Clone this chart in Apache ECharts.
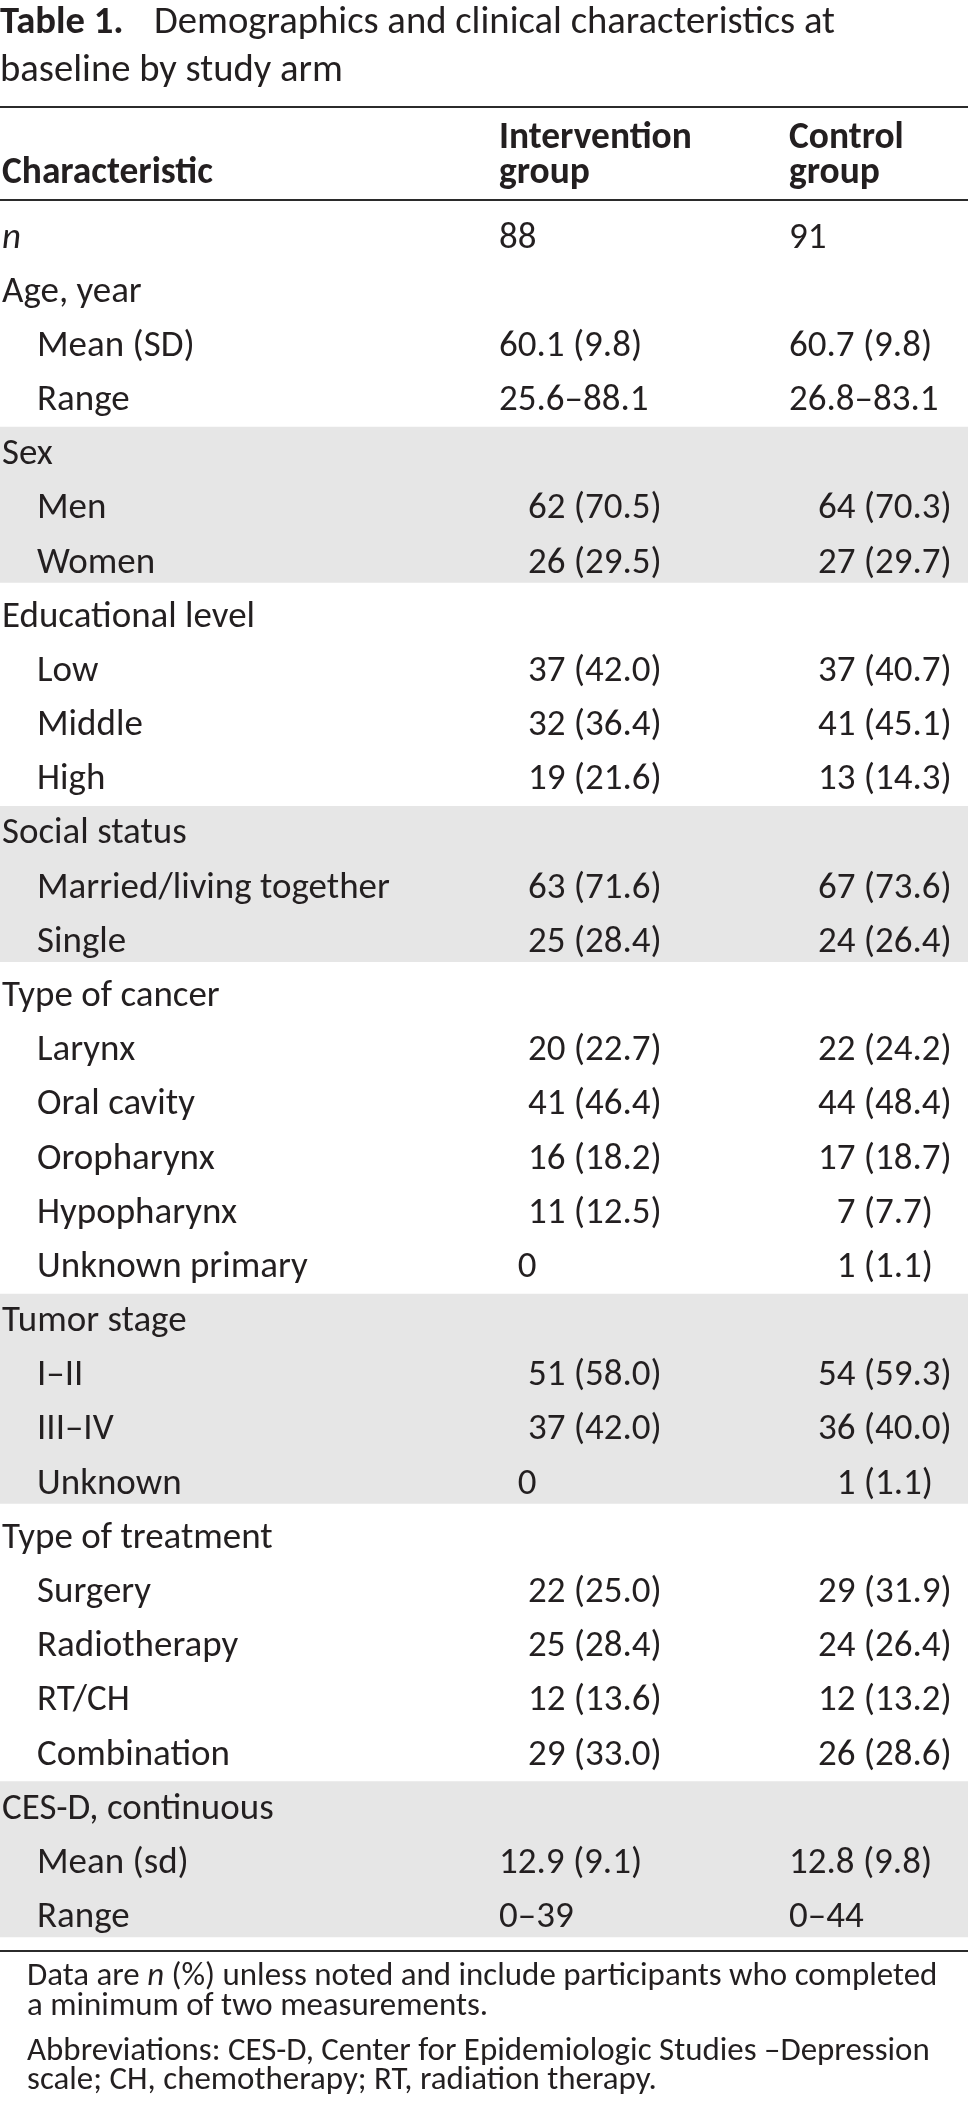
<!DOCTYPE html>
<html>
<head>
<meta charset="utf-8">
<script src="https://cdn.jsdelivr.net/npm/echarts@6/dist/echarts.min.js"></script>
<style>
html,body{margin:0;padding:0;background:#fff;}
#chart{width:968px;height:2104px;}
</style>
</head>
<body>
<div id="chart"></div>
<script>
// ---------------- DATA ----------------
const titleBold = "Table 1.";
const titleLine1 = "Demographics and clinical characteristics at";
const titleLine2 = "baseline by study arm";
const headerCharacteristic = "Characteristic";
const headerIntervention = ["Intervention", "group"];
const headerControl = ["Control", "group"];

const rowLabels = [
  "n", "Age, year", "Mean (SD)", "Range",
  "Sex", "Men", "Women",
  "Educational level", "Low", "Middle", "High",
  "Social status", "Married/living together", "Single",
  "Type of cancer", "Larynx", "Oral cavity", "Oropharynx", "Hypopharynx", "Unknown primary",
  "Tumor stage", "I–II", "III–IV", "Unknown",
  "Type of treatment", "Surgery", "Radiotherapy", "RT/CH", "Combination",
  "CES-D, continuous", "Mean (sd)", "Range"
];
const rowLevel = [
  0, 0, 1, 1,
  0, 1, 1,
  0, 1, 1, 1,
  0, 1, 1,
  0, 1, 1, 1, 1, 1,
  0, 1, 1, 1,
  0, 1, 1, 1, 1,
  0, 1, 1
];
const interventionValues = [
  "88", "", "60.1 (9.8)", "25.6–88.1",
  "", "62 (70.5)", "26 (29.5)",
  "", "37 (42.0)", "32 (36.4)", "19 (21.6)",
  "", "63 (71.6)", "25 (28.4)",
  "", "20 (22.7)", "41 (46.4)", "16 (18.2)", "11 (12.5)", "0",
  "", "51 (58.0)", "37 (42.0)", "0",
  "", "22 (25.0)", "25 (28.4)", "12 (13.6)", "29 (33.0)",
  "", "12.9 (9.1)", "0–39"
];
const controlValues = [
  "91", "", "60.7 (9.8)", "26.8–83.1",
  "", "64 (70.3)", "27 (29.7)",
  "", "37 (40.7)", "41 (45.1)", "13 (14.3)",
  "", "67 (73.6)", "24 (26.4)",
  "", "22 (24.2)", "44 (48.4)", "17 (18.7)", "7 (7.7)", "1 (1.1)",
  "", "54 (59.3)", "36 (40.0)", "1 (1.1)",
  "", "29 (31.9)", "24 (26.4)", "12 (13.2)", "26 (28.6)",
  "", "12.8 (9.8)", "0–44"
];
const shadedGroups = ["Sex", "Social status", "Tumor stage", "CES-D, continuous"];
const italicLabels = ["n"];
const footnote1 = [["Data are ", {i: "n"}, " (%) unless noted and include participants who completed"], ["a minimum of two measurements."]];
const footnote2 = [["Abbreviations: CES-D, Center for Epidemiologic Studies –Depression"], ["scale; CH, chemotherapy; RT, radiation therapy."]];

// ---------------- LAYOUT ----------------
const W = 968;
const ROW0 = 235.5, ROWH = 54.18;
const X_LABEL = 2, X_INDENT = 37;
const X_COL1 = 499, X_COL2 = 789, COUNT_SHIFT = 29;
const RULES = [107, 200, 1951];
const INK = "#231f20";
const SHADE = "#e6e6e6";

function hasFont(name) {
  const c = document.createElement('canvas').getContext('2d');
  const s = 'abcdefghijklmnopqrstuvwxyzABCDEFGHIJ0123456789';
  c.font = '72px monospace';
  const w1 = c.measureText(s).width;
  c.font = '72px "' + name + '", monospace';
  const w2 = c.measureText(s).width;
  return Math.abs(w1 - w2) > 0.5;
}
const FONT = hasFont('Carlito') ? 'Carlito' : (hasFont('Calibri') ? 'Calibri' : 'Open Sans');
const ctx = document.createElement('canvas').getContext('2d');
function fontStr(size, weight, style) { return (style || 'normal') + ' ' + (weight || 'normal') + ' ' + size + 'px "' + FONT + '"'; }
function measure(text, size, weight, style) { ctx.font = fontStr(size, weight, style); return ctx.measureText(text).width; }
function fit(text, target, weight) { return target / measure(text, 100, weight) * 100; }
function capShift(size, weight) {
  ctx.font = fontStr(size, weight);
  ctx.textBaseline = 'middle';
  const m = ctx.measureText('H');
  ctx.textBaseline = 'alphabetic';
  return (m.actualBoundingBoxDescent - m.actualBoundingBoxAscent) / 2; // cap centre below middle line
}

const bodySize = fit("Married/living together", 353, 'normal');
const headSize = fit("Characteristic", 211, 'bold');
const titleSize = fit("baseline by study arm", 343, 'normal');
const footSize = fit("Abbreviations: CES-D, Center for Epidemiologic Studies –Depression", 903, 'normal');
const bodyDy = -capShift(bodySize, 'normal');
const headDy = -capShift(headSize, 'bold');
const titleDy = -capShift(titleSize, 'normal');
const footDy = -capShift(footSize, 'normal');

function txt(x, y, text, size, opts) {
  opts = opts || {};
  return {
    type: 'text', silent: true,
    style: {
      x: x, y: y, text: text,
      fontFamily: FONT, fontSize: size,
      fontWeight: opts.weight || 'normal', fontStyle: opts.style || 'normal',
      fill: INK, align: opts.align || 'left', verticalAlign: 'middle'
    }
  };
}

// shading ranges built from the data
const shadeRanges = [];
rowLabels.forEach(function (lab, i) {
  if (rowLevel[i] === 0 && shadedGroups.indexOf(lab) >= 0) {
    let j = i + 1;
    while (j < rowLabels.length && rowLevel[j] !== 0) j++;
    shadeRanges.push([0, i, j - 1]);
  }
});

function valueElems(val, colX, y) {
  if (!val) return [];
  const countMatch = /^(\d+) (\(.*\))$/.exec(val);
  if (countMatch) {
    const parenX = colX + COUNT_SHIFT + measure("00 ", bodySize);
    return [
      txt(parenX - measure(" ", bodySize), y, countMatch[1], bodySize, {align: 'right'}),
      txt(parenX, y, countMatch[2], bodySize)
    ];
  }
  if (/^0$/.test(val)) {
    return [txt(colX + measure("0", bodySize), y, val, bodySize)];
  }
  return [txt(colX, y, val, bodySize)];
}

const chart = echarts.init(document.getElementById('chart'), null, {renderer: 'canvas'});

const graphics = [];
// title
graphics.push(txt(0, 20 + titleDy, titleBold, titleSize, {weight: 'bold'}));
graphics.push(txt(154, 20 + titleDy, titleLine1, titleSize));
graphics.push(txt(0, 68 + titleDy, titleLine2, titleSize));
// header
graphics.push(txt(X_LABEL, 170 + headDy, headerCharacteristic, headSize, {weight: 'bold'}));
graphics.push(txt(X_COL1, 135 + headDy, headerIntervention[0], headSize, {weight: 'bold'}));
graphics.push(txt(X_COL1, 170 + headDy, headerIntervention[1], headSize, {weight: 'bold'}));
graphics.push(txt(X_COL2, 135 + headDy, headerControl[0], headSize, {weight: 'bold'}));
graphics.push(txt(X_COL2, 170 + headDy, headerControl[1], headSize, {weight: 'bold'}));
// rules
RULES.forEach(function (y) {
  graphics.push({type: 'line', silent: true, shape: {x1: 0, y1: y, x2: W, y2: y}, style: {stroke: '#2b2b2b', lineWidth: 2.2}});
});
// footnote
const footY = [1974, 2004, 2049, 2078];
const footLines = footnote1.concat(footnote2);
footLines.forEach(function (parts, k) {
  let x = 27;
  parts.forEach(function (p) {
    const isI = typeof p === 'object';
    const t = isI ? p.i : p;
    graphics.push(txt(x, footY[k] + footDy, t, footSize, {style: isI ? 'italic' : 'normal'}));
    x += measure(t, footSize, 'normal', isI ? 'italic' : 'normal');
  });
});

const option = {
  backgroundColor: '#ffffff',
  animation: false,
  grid: {left: 0, right: 0, top: ROW0 - ROWH / 2, height: ROWH * rowLabels.length},
  xAxis: {type: 'value', min: 0, max: W, show: false},
  yAxis: {type: 'category', data: rowLabels, inverse: true, show: false},
  series: [
    {
      type: 'custom', z: 1, silent: true,
      data: shadeRanges,
      encode: {x: 0, y: [1, 2]},
      renderItem: function (params, api) {
        const h = api.size([0, 1])[1];
        const p1 = api.coord([0, api.value(1)]);
        const p2 = api.coord([W, api.value(2)]);
        const top = p1[1] - 0.47 * h;
        const bot = p2[1] + 0.41 * h;
        return {type: 'rect', shape: {x: p1[0], y: top, width: p2[0] - p1[0], height: bot - top}, style: {fill: SHADE}};
      }
    },
    {
      type: 'custom', z: 2, silent: true,
      data: rowLabels.map(function (_, i) { return [0, i]; }),
      encode: {x: 0, y: 1},
      renderItem: function (params, api) {
        const i = api.value(1);
        const y = api.coord([0, i])[1] + bodyDy;
        const lx = api.coord([rowLevel[i] ? X_INDENT : X_LABEL, i])[0];
        const c1 = api.coord([X_COL1, i])[0];
        const c2 = api.coord([X_COL2, i])[0];
        const children = [txt(lx, y, rowLabels[i], bodySize, {style: italicLabels.indexOf(rowLabels[i]) >= 0 && rowLevel[i] === 0 ? 'italic' : 'normal'})]
          .concat(valueElems(interventionValues[i], c1, y))
          .concat(valueElems(controlValues[i], c2, y));
        return {type: 'group', children: children};
      }
    }
  ],
  graphic: graphics
};
chart.setOption(option);
</script>
</body>
</html>
